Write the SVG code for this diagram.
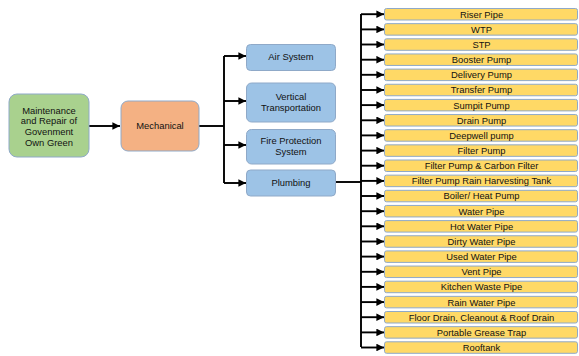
<svg xmlns="http://www.w3.org/2000/svg" width="579" height="356" viewBox="0 0 579 356">
  <style>
    text { font-family: "Liberation Sans", Arial, sans-serif; font-size: 9.4px; fill: #111; text-anchor: middle; }
    .box { stroke: #8fa9c8; stroke-width: 1; }
    .green { fill: #a9d18e; }
    .orange { fill: #f4b183; }
    .blue { fill: #9dc3e6; }
    .yellow { fill: #ffd966; }
    .wire { fill: none; stroke: #000; stroke-width: 1.9; }
  </style>
  <defs>
    <marker id="arr" viewBox="0 0 10 10" refX="10" refY="5" markerWidth="4" markerHeight="4" markerUnits="strokeWidth" orient="auto">
      <path d="M0,0 L10,5 L0,10 z" fill="#000"/>
    </marker>
  </defs>

  <!-- connectors -->
  <g id="connectors">
    <path class="wire" d="M89,126 H120" marker-end="url(#arr)"/>
    <path class="wire" d="M199,126 H224"/>
    <path class="wire" d="M224,56 V183"/>
    <path class="wire" d="M224,56 H246" marker-end="url(#arr)"/>
    <path class="wire" d="M224,101 H246" marker-end="url(#arr)"/>
    <path class="wire" d="M224,145 H246" marker-end="url(#arr)"/>
    <path class="wire" d="M224,183 H246" marker-end="url(#arr)"/>
    <path class="wire" d="M336,182 H361"/>
    <path class="wire" d="M361,14 V347"/>
    <g id="branches">
      <path class="wire" d="M361,14.2 H384" marker-end="url(#arr)"/>
      <path class="wire" d="M361,29.4 H384" marker-end="url(#arr)"/>
      <path class="wire" d="M361,44.5 H384" marker-end="url(#arr)"/>
      <path class="wire" d="M361,59.7 H384" marker-end="url(#arr)"/>
      <path class="wire" d="M361,74.8 H384" marker-end="url(#arr)"/>
      <path class="wire" d="M361,90.0 H384" marker-end="url(#arr)"/>
      <path class="wire" d="M361,105.1 H384" marker-end="url(#arr)"/>
      <path class="wire" d="M361,120.3 H384" marker-end="url(#arr)"/>
      <path class="wire" d="M361,135.4 H384" marker-end="url(#arr)"/>
      <path class="wire" d="M361,150.6 H384" marker-end="url(#arr)"/>
      <path class="wire" d="M361,165.7 H384" marker-end="url(#arr)"/>
      <path class="wire" d="M361,180.9 H384" marker-end="url(#arr)"/>
      <path class="wire" d="M361,196.0 H384" marker-end="url(#arr)"/>
      <path class="wire" d="M361,211.2 H384" marker-end="url(#arr)"/>
      <path class="wire" d="M361,226.3 H384" marker-end="url(#arr)"/>
      <path class="wire" d="M361,241.5 H384" marker-end="url(#arr)"/>
      <path class="wire" d="M361,256.6 H384" marker-end="url(#arr)"/>
      <path class="wire" d="M361,271.8 H384" marker-end="url(#arr)"/>
      <path class="wire" d="M361,286.9 H384" marker-end="url(#arr)"/>
      <path class="wire" d="M361,302.1 H384" marker-end="url(#arr)"/>
      <path class="wire" d="M361,317.2 H384" marker-end="url(#arr)"/>
      <path class="wire" d="M361,332.4 H384" marker-end="url(#arr)"/>
      <path class="wire" d="M361,347.5 H384" marker-end="url(#arr)"/>
    </g>
  </g>

  <!-- root -->
  <g id="root">
    <rect class="box green" x="9" y="94" width="80" height="63" rx="8"/>
    <text x="49" y="113.5">Maintenance</text>
    <text x="49" y="124.2">and Repair of</text>
    <text x="49" y="134.9">Govenment</text>
    <text x="49" y="145.6">Own Green</text>
  </g>

  <g id="mechanical">
    <rect class="box orange" x="121" y="101" width="78" height="50" rx="7"/>
    <text x="160" y="129">Mechanical</text>
  </g>

  <g id="air-system">
    <rect class="box blue" x="246.5" y="44.5" width="89" height="26" rx="4"/>
    <text x="291" y="60">Air System</text>
  </g>
  <g id="vertical-transportation">
    <rect class="box blue" x="246.5" y="83" width="89" height="39" rx="5"/>
    <text x="291" y="100">Vertical</text>
    <text x="291" y="110.5">Transportation</text>
  </g>
  <g id="fire-protection">
    <rect class="box blue" x="246.5" y="129.5" width="89" height="34.5" rx="5"/>
    <text x="291" y="144">Fire Protection</text>
    <text x="291" y="154.5">System</text>
  </g>
  <g id="plumbing">
    <rect class="box blue" x="246.5" y="170" width="89" height="26" rx="4"/>
    <text x="291" y="186">Plumbing</text>
  </g>

  <!-- plumbing items -->
  <g id="riser-pipe"><rect class="box yellow" x="384.5" y="8.5" width="193" height="11.5" rx="2"/><text x="481.5" y="17.6">Riser Pipe</text></g>
  <g id="wtp"><rect class="box yellow" x="384.5" y="23.65" width="193" height="11.5" rx="2"/><text x="481.5" y="32.8">WTP</text></g>
  <g id="stp"><rect class="box yellow" x="384.5" y="38.8" width="193" height="11.5" rx="2"/><text x="481.5" y="47.9">STP</text></g>
  <g id="booster-pump"><rect class="box yellow" x="384.5" y="53.95" width="193" height="11.5" rx="2"/><text x="481.5" y="63.1">Booster Pump</text></g>
  <g id="delivery-pump"><rect class="box yellow" x="384.5" y="69.1" width="193" height="11.5" rx="2"/><text x="481.5" y="78.2">Delivery Pump</text></g>
  <g id="transfer-pump"><rect class="box yellow" x="384.5" y="84.25" width="193" height="11.5" rx="2"/><text x="481.5" y="93.4">Transfer Pump</text></g>
  <g id="sumpit-pump"><rect class="box yellow" x="384.5" y="99.4" width="193" height="11.5" rx="2"/><text x="481.5" y="108.5">Sumpit Pump</text></g>
  <g id="drain-pump"><rect class="box yellow" x="384.5" y="114.55" width="193" height="11.5" rx="2"/><text x="481.5" y="123.7">Drain Pump</text></g>
  <g id="deepwell-pump"><rect class="box yellow" x="384.5" y="129.7" width="193" height="11.5" rx="2"/><text x="481.5" y="138.8">Deepwell pump</text></g>
  <g id="filter-pump"><rect class="box yellow" x="384.5" y="144.85" width="193" height="11.5" rx="2"/><text x="481.5" y="154.0">Filter Pump</text></g>
  <g id="filter-carbon"><rect class="box yellow" x="384.5" y="160.0" width="193" height="11.5" rx="2"/><text x="481.5" y="169.1">Filter Pump &amp; Carbon Filter</text></g>
  <g id="filter-rain-tank"><rect class="box yellow" x="384.5" y="175.15" width="193" height="11.5" rx="2"/><text x="481.5" y="184.3">Filter Pump Rain Harvesting Tank</text></g>
  <g id="boiler"><rect class="box yellow" x="384.5" y="190.3" width="193" height="11.5" rx="2"/><text x="481.5" y="199.4">Boiler/ Heat Pump</text></g>
  <g id="water-pipe"><rect class="box yellow" x="384.5" y="205.45" width="193" height="11.5" rx="2"/><text x="481.5" y="214.6">Water Pipe</text></g>
  <g id="hot-water-pipe"><rect class="box yellow" x="384.5" y="220.6" width="193" height="11.5" rx="2"/><text x="481.5" y="229.7">Hot Water Pipe</text></g>
  <g id="dirty-water-pipe"><rect class="box yellow" x="384.5" y="235.75" width="193" height="11.5" rx="2"/><text x="481.5" y="244.9">Dirty Water Pipe</text></g>
  <g id="used-water-pipe"><rect class="box yellow" x="384.5" y="250.9" width="193" height="11.5" rx="2"/><text x="481.5" y="260.0">Used Water Pipe</text></g>
  <g id="vent-pipe"><rect class="box yellow" x="384.5" y="266.05" width="193" height="11.5" rx="2"/><text x="481.5" y="275.2">Vent Pipe</text></g>
  <g id="kitchen-waste-pipe"><rect class="box yellow" x="384.5" y="281.2" width="193" height="11.5" rx="2"/><text x="481.5" y="290.3">Kitchen Waste Pipe</text></g>
  <g id="rain-water-pipe"><rect class="box yellow" x="384.5" y="296.35" width="193" height="11.5" rx="2"/><text x="481.5" y="305.5">Rain Water Pipe</text></g>
  <g id="floor-drain"><rect class="box yellow" x="384.5" y="311.5" width="193" height="11.5" rx="2"/><text x="481.5" y="320.6">Floor Drain, Cleanout &amp; Roof Drain</text></g>
  <g id="grease-trap"><rect class="box yellow" x="384.5" y="326.65" width="193" height="11.5" rx="2"/><text x="481.5" y="335.8">Portable Grease Trap</text></g>
  <g id="rooftank"><rect class="box yellow" x="384.5" y="341.8" width="193" height="11.5" rx="2"/><text x="481.5" y="350.9">Rooftank</text></g>
</svg>
